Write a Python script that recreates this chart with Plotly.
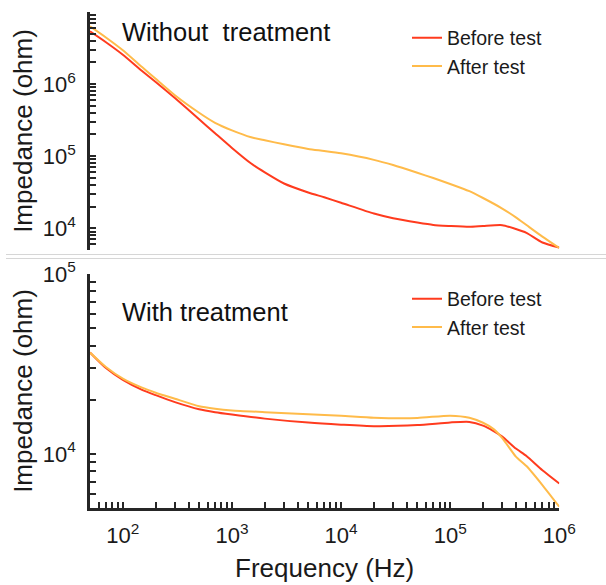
import plotly.graph_objects as go

# Impedance spectra, samples without treatment (top panel)
freq_top = [50, 70, 100, 150, 200, 300, 500, 700, 1e3, 1.5e3, 2e3, 3e3, 5e3, 7e3,
            1e4, 2e4, 3e4, 5e4, 7e4, 1e5, 1.5e5, 2e5, 3e5, 4e5, 5e5, 7e5, 1e6]
z_top_before = [5.38e6, 3.8e6, 2.55e6, 1.52e6, 1.07e6, 6.4e5, 3.25e5, 2.08e5, 1.3e5,
                7.9e4, 5.96e4, 4.18e4, 3.14e4, 2.69e4, 2.26e4, 1.60e4, 1.377e4, 1.20e4,
                1.111e4, 1.076e4, 1.049e4, 1.076e4, 1.104e4, 9.78e3, 8.66e3, 6.36e3, 5.42e3]
z_top_after = [6.31e6, 4.42e6, 2.94e6, 1.72e6, 1.18e6, 7.0e5, 4.0e5, 2.9e5, 2.28e5,
               1.83e5, 1.66e5, 1.46e5, 1.26e5, 1.18e5, 1.094e5, 8.89e4, 7.53e4, 5.89e4,
               4.97e4, 4.12e4, 3.27e4, 2.63e4, 1.88e4, 1.42e4, 1.11e4, 7.67e3, 5.33e3]

# Impedance spectra, samples with treatment (bottom panel)
freq_bot = [50, 70, 100, 150, 200, 300, 500, 700, 1e3, 2e3, 5e3, 1e4, 2e4, 5e4,
            1e5, 1.5e5, 2e5, 2.5e5, 3e5, 4e5, 5e5, 7e5, 1e6]
z_bot_before = [36600, 30000, 25800, 22700, 21200, 19400, 17700, 17060, 16560, 15700,
                14920, 14540, 14260, 14450, 14950, 15050, 14350, 13380, 12470, 10700,
                9730, 8110, 6845]
z_bot_after = [36600, 30400, 26200, 23330, 21880, 20260, 18410, 17830, 17450, 17060,
               16620, 16310, 15900, 15840, 16310, 15880, 14890, 13730, 12240, 9660,
               8560, 6710, 5080]

series_names = ["Before test", "After test"]

# labelled decades
x_decades = [2, 3, 4, 5, 6]
y_top_decades = [4, 5, 6]
y_bot_decades = [4, 5]


def log_ticks(lo_exp, hi_exp, labelled):
    """Tick values 1..9 x 10^k over the given decades; only labelled decades get text."""
    vals, text = [], []
    for k in range(lo_exp, hi_exp + 1):
        for m in range(1, 10):
            vals.append(m * 10 ** k)
            text.append(f"10<sup>{k}</sup>" if (m == 1 and k in labelled) else "")
    return vals, text


x_tickvals, x_ticktext = log_ticks(1, 6, x_decades)
yt_tickvals, yt_ticktext = log_ticks(3, 6, y_top_decades)
yb_tickvals, yb_ticktext = log_ticks(3, 5, y_bot_decades)

RED = "#ff3b1e"
ORANGE = "#ffbb4a"
AXIS = "#262626"
FONT = "Liberation Sans, Arial, Helvetica, sans-serif"

fig = go.Figure()

for name, z, col in zip(series_names, [z_top_before, z_top_after], [RED, ORANGE]):
    fig.add_trace(go.Scatter(x=freq_top, y=z, mode="lines", name=name,
                             line=dict(color=col, width=2, shape="spline", smoothing=0.6),
                             xaxis="x", yaxis="y", legend="legend"))
for name, z, col in zip(series_names, [z_bot_before, z_bot_after], [RED, ORANGE]):
    fig.add_trace(go.Scatter(x=freq_bot, y=z, mode="lines", name=name,
                             line=dict(color=col, width=2, shape="spline", smoothing=0.6),
                             xaxis="x2", yaxis="y2", legend="legend2"))

W, H = 606, 585
x_dom = [90 / W, 559.3 / W]
xrange = [1.69897, 6.0001]
ytop_range = [3.69897, 6.999]
ybot_range = [3.69897, 5.0001]
ytop_dom = [1 - 250 / H, 1 - 12 / H]
ybot_dom = [1 - 508 / H, 1 - 274 / H]

tickfont = dict(family=FONT, size=22, color="#1a1a1a")
titlefont = dict(family=FONT, size=26, color="#1a1a1a")

yaxis_common = dict(type="log", tickmode="array",
                    ticks="inside", ticklen=6, tickwidth=2.2, tickcolor=AXIS,
                    showline=True, linecolor=AXIS, linewidth=2.5, showgrid=False,
                    zeroline=False, tickfont=tickfont, ticklabelstandoff=7,
                    automargin=False)

fig.update_layout(
    width=W, height=H,
    margin=dict(l=0, r=0, t=0, b=0, autoexpand=False),
    paper_bgcolor="white", plot_bgcolor="white",
    font=dict(family=FONT, color="#1a1a1a"),
    xaxis=dict(type="log", domain=x_dom, range=xrange, anchor="y",
               showline=False, showticklabels=False, ticks="", showgrid=False,
               zeroline=False, automargin=False),
    yaxis=dict(**yaxis_common, anchor="x", tickvals=yt_tickvals, ticktext=yt_ticktext,
               domain=ytop_dom, range=ytop_range,
               title=dict(text="Impedance (ohm)", font=titlefont, standoff=3)),
    xaxis2=dict(type="log", domain=x_dom, range=xrange, anchor="y2",
                tickmode="array", tickvals=x_tickvals, ticktext=x_ticktext,
                ticks="inside", ticklen=6, tickwidth=2.2, tickcolor=AXIS,
                showline=True, linecolor=AXIS, linewidth=2.5, showgrid=False,
                zeroline=False, tickfont=tickfont, ticklabelstandoff=6,
                automargin=False,
                title=dict(text="Frequency (Hz)", font=titlefont, standoff=12)),
    yaxis2=dict(**yaxis_common, anchor="x2", tickvals=yb_tickvals, ticktext=yb_ticktext,
                domain=ybot_dom, range=ybot_range,
                title=dict(text="Impedance (ohm)", font=titlefont, standoff=3)),
    legend=dict(x=407 / W, y=1 - 18.5 / H, xanchor="left", yanchor="top",
                bgcolor="rgba(0,0,0,0)", borderwidth=0,
                font=dict(family=FONT, size=19.5, color="#1a1a1a"), itemwidth=30),
    legend2=dict(x=407 / W, y=1 - 279.5 / H, xanchor="left", yanchor="top",
                 bgcolor="rgba(0,0,0,0)", borderwidth=0,
                 font=dict(family=FONT, size=19.5, color="#1a1a1a"), itemwidth=30),
    showlegend=True,
    annotations=[
        dict(text="Without\u00a0 treatment", x=120 / W, y=1 - 32 / H, xref="paper", yref="paper",
             xanchor="left", yanchor="middle", showarrow=False,
             font=dict(family=FONT, size=25.5, color="#111")),
        dict(text="With treatment", x=120 / W, y=1 - 312 / H, xref="paper", yref="paper",
             xanchor="left", yanchor="middle", showarrow=False,
             font=dict(family=FONT, size=25.5, color="#111")),
    ],
    shapes=[
        dict(type="line", xref="paper", yref="paper", x0=6 / W, x1=1,
             y0=1 - 254.5 / H, y1=1 - 254.5 / H, line=dict(color="#d6d6d6", width=1)),
        dict(type="line", xref="paper", yref="paper", x0=6 / W, x1=1,
             y0=1 - 258.5 / H, y1=1 - 258.5 / H, line=dict(color="#d6d6d6", width=1)),
    ],
)

fig.write_html("out.html")
